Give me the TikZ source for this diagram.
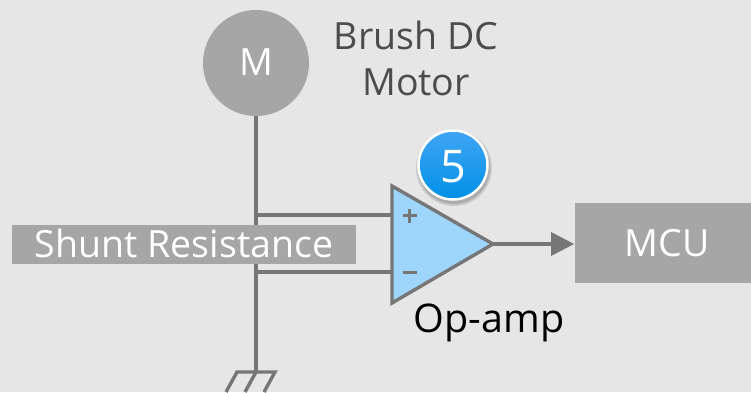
\documentclass[tikz,border=0pt]{standalone}
\usepackage{fontspec}
\setmainfont{Open Sans}
\usetikzlibrary{arrows.meta,shadows,calc}
\definecolor{bgc}{HTML}{E6E6E6}
\definecolor{wirec}{HTML}{767676}
\definecolor{boxc}{HTML}{A6A6A6}
\definecolor{ampc}{HTML}{9DD5FB}
\definecolor{badgetop}{HTML}{41A5F5}
\definecolor{badgebot}{HTML}{0090E6}
\tikzset{
  wire/.style={draw=wirec,line width=3.4pt},
  lbl/.style={font=\fontsize{37.5}{45}\selectfont,inner sep=0pt},
  whitelbl/.style={lbl,text=white},
  darklbl/.style={lbl,text=black!70},
  blackbox/.style={draw=none,fill=boxc,inner sep=0pt},
  signstroke/.style={draw=wirec,line width=3.2pt}
}
\begin{document}
\begin{tikzpicture}[x=1pt,y=-1pt]
\useasboundingbox (0,0) rectangle (751,392);
\fill[bgc] (0,0) rectangle (751,392);
\node[blackbox,circle,minimum size=106pt] (motor) at (256,63) {};
\node[whitelbl] (mlabel) at (256,62) {M};
\coordinate (gnd) at (256,372);
\coordinate (plus) at (392,215);
\coordinate (minus) at (392,272);
\draw[wire] (motor.south) -- (gnd);
\draw[wire] (256,215) -- (plus);
\draw[wire] (256,272) -- (minus);
\draw[wire,line join=miter] (226,392) -- (237,372) -- (275,372) -- (264,392);
\draw[wire] (gnd) -- (245,392);
% amp
\draw[wire,fill=ampc,line join=miter] (392,186) -- (493,244) -- (392,303) -- cycle;
\draw[signstroke] (402.5,215.5) -- (416.5,215.5) (409.5,208.5) -- (409.5,222.5);
\draw[signstroke] (402.5,272.7) -- (417,272.7);
\coordinate (tip) at (493,244);
\node[blackbox,minimum width=176pt,minimum height=80pt] (mcu) at (663,243) {};
\node[whitelbl] (mculabel) at (667,243) {MCU};
\draw[wire] (tip) -- (552,244);
\fill[wirec] (574,244) -- (551,232) -- (551,256) -- cycle;
% shunt
\node[blackbox,minimum width=344pt,minimum height=39pt] (shunt) at (184,244.5) {};
\node[whitelbl] (shuntlabel) at (184,243) {Shunt Resistance};
% labels
\node[darklbl] (brush) at (416,35) {Brush DC};
\node[darklbl] (motorlabel) at (416,82) {Motor};
\node[lbl,font=\fontsize{39.5}{47}\selectfont,text=black] (opamp) at (489,323) {Op-amp};
% badge
\fill[black,opacity=.12] (454,168) circle (38);
\fill[black,opacity=.15] (454,168) circle (36);
\shade[top color=badgetop,bottom color=badgebot,draw=white,line width=2.5pt] (453,165) circle (34.5);
\node[whitelbl,font=\fontsize{45}{54}\selectfont] (five) at (453,166.5) {5};
\end{tikzpicture}
\end{document}
